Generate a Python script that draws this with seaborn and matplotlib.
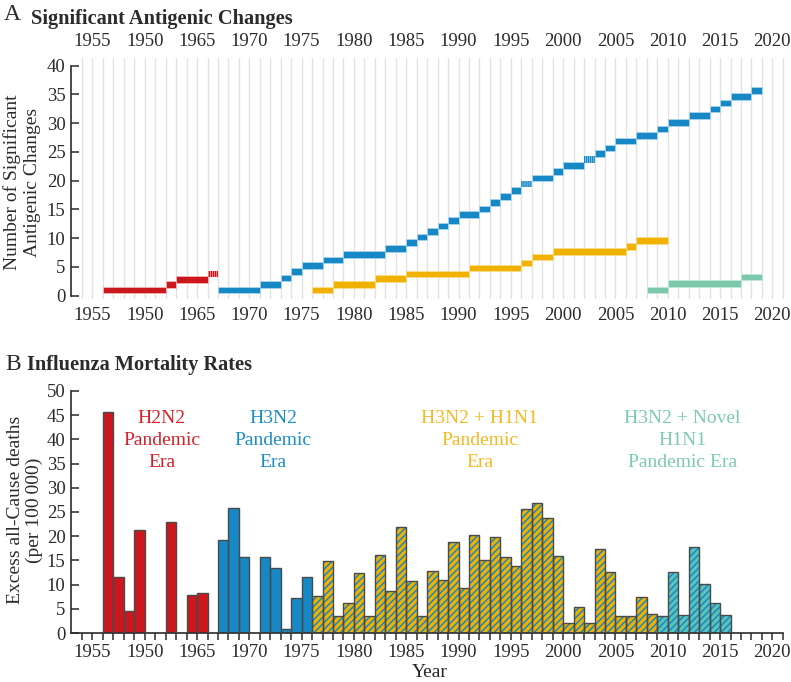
import numpy as np
import pandas as pd
import matplotlib
matplotlib.use("Agg")
import matplotlib.pyplot as plt
import seaborn as sns

# ---------------- data ----------------
# Panel A: cumulative significant antigenic changes (step segments)
red_start = [1956, 1962, 1963, 1966]
red_end = 1967
red_level = [1.0, 1.9, 2.85, 3.8]
red_hatched = [False, False, False, True]

blue_start = [1967, 1971, 1973, 1974, 1975, 1977, 1979, 1983, 1985, 1986, 1987,
              1988, 1989, 1990, 1992, 1993, 1994, 1995, 1996, 1997, 1999, 2000,
              2002, 2003, 2004, 2005, 2007, 2009, 2010, 2012, 2014, 2015, 2016, 2018]
blue_end = 2019
blue_level = [1.0, 2.0, 3.1, 4.2, 5.2, 6.2, 7.2, 8.2, 9.2, 10.2, 11.2, 12.1, 13.1,
              14.1, 15.1, 16.2, 17.2, 18.3, 19.4, 20.5, 21.6, 22.6, 23.7, 24.7,
              25.7, 26.9, 27.9, 29.0, 30.1, 31.3, 32.5, 33.5, 34.6, 35.7]
blue_hatched_years = [1996, 2002]

yellow_start = [1976, 1978, 1982, 1985, 1991, 1996, 1997, 1999, 2006, 2007]
yellow_end = 2010
yellow_level = [1.0, 2.0, 3.0, 3.8, 4.8, 5.7, 6.7, 7.7, 8.6, 9.6]

teal_start = [2008, 2010, 2017]
teal_end = 2019
teal_level = [1.0, 2.1, 3.25]

# Panel B: excess all-cause deaths per 100 000
h2n2_years = [1956, 1957, 1958, 1959, 1962, 1964, 1965]
h2n2_vals = [45.7, 11.5, 4.5, 21.2, 23.0, 7.8, 8.2]

h3n2_years = [1967, 1968, 1969, 1971, 1972, 1973, 1974, 1975]
h3n2_vals = [19.2, 25.8, 15.6, 15.6, 13.4, 0.8, 7.2, 11.6]

h3h1_years = list(range(1976, 2009))
h3h1_vals = [7.7, 14.9, 3.6, 6.3, 12.3, 3.6, 16.1, 8.7, 21.8, 10.7, 3.6, 12.9,
             11.0, 18.7, 9.4, 20.2, 15.0, 19.8, 15.8, 13.8, 25.7, 26.9, 23.8,
             15.9, 2.1, 5.4, 2.0, 17.4, 12.6, 3.6, 3.6, 7.5, 4.0]

novel_years = list(range(2009, 2016))
novel_vals = [3.5, 12.6, 3.8, 17.8, 10.1, 6.2, 3.8]

tick_years = [1955, 1960, 1965, 1970, 1975, 1980, 1985, 1990, 1995, 2000, 2005,
              2010, 2015, 2020]
tick_labels = ["1955", "1950", "1965", "1970", "1975", "1980", "1985", "1990",
               "1995", "2000", "2005", "2010", "2015", "2020"]

RED = "#cb171e"
BLUE = "#1788c6"
YELLOW = "#f0b100"
TEAL = "#7cc8ab"
DARK = "#2b2b2b"

# ---------------- style ----------------
sns.set_theme(style="white")
plt.rcParams["font.family"] = ["Liberation Serif", "DejaVu Serif"]
plt.rcParams["text.color"] = DARK
plt.rcParams["xtick.color"] = DARK
plt.rcParams["ytick.color"] = DARK
plt.rcParams["hatch.linewidth"] = 1.1

W, H = 791, 682
fig = plt.figure(figsize=(W / 100, H / 100), dpi=100)


def box(l, t, r, b):
    return [l / W, 1 - b / H, (r - l) / W, (b - t) / H]


XLIM = (1952.95, 2021.59)

# ---------------- Panel A ----------------
axA = fig.add_axes(box(71, 58, 789, 299))


def draw_steps(ax, starts, end, levels, color, light, hatched=None):
    starts = np.asarray(starts, dtype=float)
    ends = np.append(starts[1:], end)
    levels = np.asarray(levels)
    if hatched is None:
        hatched = np.zeros(len(starts), dtype=bool)
    hatched = np.asarray(hatched)
    thick = 1.15
    solid = ~hatched
    ax.bar(starts[solid], thick, width=(ends - starts)[solid],
           bottom=levels[solid] - thick / 2, align="edge",
           color=color, edgecolor=light, linewidth=0.6, zorder=3)
    if hatched.any():
        with plt.rc_context({"hatch.linewidth": 1.0}):
            ax.bar(starts[hatched], thick, width=(ends - starts)[hatched],
                   bottom=levels[hatched] - thick / 2, align="edge",
                   color=light, edgecolor=color, hatch="||||||||",
                   linewidth=0, zorder=3)


draw_steps(axA, red_start, red_end, red_level, RED, "#f6b3b3", red_hatched)
draw_steps(axA, blue_start, blue_end, blue_level, BLUE, "#a9d3ee",
           [s in blue_hatched_years for s in blue_start])
draw_steps(axA, yellow_start, yellow_end, yellow_level, YELLOW, "#f8dc8a")
draw_steps(axA, teal_start, teal_end, teal_level, TEAL, "#bfe6d6")

axA.set_xlim(*XLIM)
axA.set_ylim(-0.574, 41.34)
for s in ["top", "right", "bottom"]:
    axA.spines[s].set_visible(False)
axA.spines["left"].set_bounds(0, 40)
axA.spines["left"].set_color(DARK)
axA.spines["left"].set_linewidth(1.2)
axA.set_yticks(range(0, 41, 5))
axA.tick_params(axis="y", direction="in", length=6, width=1.1, labelsize=13.5,
                pad=4, left=True)
axA.set_xticks(tick_years)
axA.set_xticklabels(tick_labels)
axA.set_xticks(range(1954, 2022), minor=True)
axA.tick_params(axis="x", which="both", length=0, top=False, bottom=False,
                labeltop=True, labelbottom=True, labelsize=13.5, pad=6)
axA.grid(True, axis="x", which="both", color="#e2e2e2", linewidth=1.0, zorder=0)
axA.grid(False, axis="y")
axA.set_axisbelow(True)

fig.text(4 / W, 1 - 14 / H, "A", fontsize=17, ha="left", va="center")
fig.text(31 / W, 1 - 19 / H, "Significant Antigenic Changes", fontsize=14.7,
         fontweight="bold", ha="left", va="center")
fig.text(22 / W, 1 - 182 / H, "Number of Significant\nAntigenic Changes",
         rotation=90, ha="center", va="center", fontsize=14, linespacing=1.2)

# ---------------- Panel B ----------------
axB = fig.add_axes(box(71, 391, 789, 633))


def era_bars(ax, years, vals, face, stripe=None):
    df = pd.DataFrame({"year": years, "deaths": vals})
    lo, hi = min(years), max(years) + 1
    kw = dict(data=df, x="year", weights="deaths", binwidth=1,
              binrange=(lo, hi), ax=ax, alpha=1)
    if stripe is None:
        sns.histplot(**kw, color=face, linewidth=0, zorder=2)
    else:
        sns.histplot(**kw, color=face, edgecolor=stripe, hatch="/////",
                     linewidth=0, zorder=2)
    sns.histplot(**kw, fill=False, color="#4a4a4a", linewidth=1.0, zorder=3)


era_bars(axB, h2n2_years, h2n2_vals, RED)
era_bars(axB, h3n2_years, h3n2_vals, BLUE)
era_bars(axB, h3h1_years, h3h1_vals, YELLOW, stripe=BLUE)
era_bars(axB, novel_years, novel_vals, "#5cc3b8", stripe=BLUE)

axB.set_xlim(*XLIM)
axB.set_ylim(0, 50)
for s in ["top", "right"]:
    axB.spines[s].set_visible(False)
for s in ["left", "bottom"]:
    axB.spines[s].set_color(DARK)
    axB.spines[s].set_linewidth(1.2)
axB.spines["bottom"].set_bounds(XLIM[0], 2021)
axB.set_yticks(range(0, 51, 5))
axB.tick_params(axis="y", direction="in", length=6, width=1.1, labelsize=13.5,
                pad=4, left=True)
axB.set_xticks(tick_years)
axB.set_xticklabels(tick_labels)
axB.set_xticks(range(1954, 2022), minor=True)
axB.tick_params(axis="x", which="both", direction="out", length=5, width=1.1,
                bottom=True, labelsize=13.5, pad=3)
axB.set_xlabel("Year", fontsize=14, labelpad=2)
axB.set_ylabel("")

era_text = dict(ha="center", va="center", fontsize=14, linespacing=1.38)
axB.text(1961.6, 39.7, "H2N2\nPandemic\nEra", color="#d42128", **era_text)
axB.text(1972.3, 39.7, "H3N2\nPandemic\nEra", color="#1a8dc8", **era_text)
axB.text(1992.0, 39.7, "H3N2 + H1N1\nPandemic\nEra", color="#f5b922", **era_text)
axB.text(2011.4, 39.7, "H3N2 + Novel\nH1N1\nPandemic Era", color="#7ccbb0",
         **era_text)

fig.text(5 / W, 1 - 365 / H, "B", fontsize=17, ha="left", va="center")
fig.text(27 / W, 1 - 365 / H, "Influenza Mortality Rates", fontsize=14.7,
         fontweight="bold", ha="left", va="center")
fig.text(25 / W, 1 - 510 / H, "Excess all-Cause deaths\n(per 100\u2009000)",
         rotation=90, ha="center", va="center", fontsize=14, linespacing=1.2)

fig.savefig("out.png", dpi=100)
